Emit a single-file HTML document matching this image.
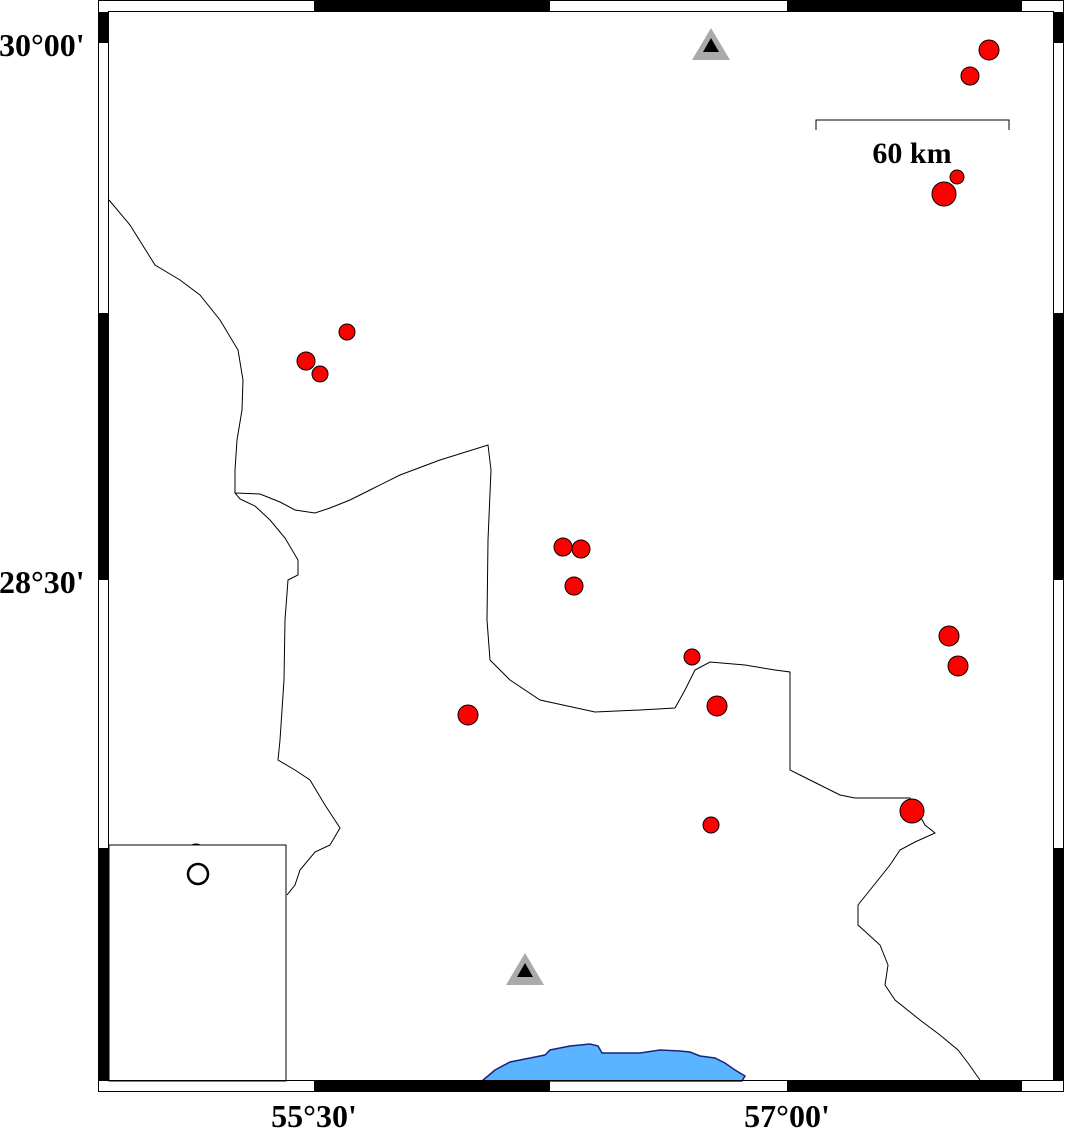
<!DOCTYPE html>
<html><head><style>body{margin:0;background:#fff}svg{display:block}</style></head><body>
<svg width="1066" height="1130" xmlns="http://www.w3.org/2000/svg">
<rect width="1066" height="1130" fill="#fff"/>
<!-- sea -->
<path d="M482,1081 L495,1070 L510,1062 L530,1058 L545,1055 L550,1050 L570,1046 L590,1044 L598,1046 L602,1053 L640,1053 L660,1050 L680,1051 L690,1052 L700,1056 L715,1058 L725,1063 L735,1070 L745,1076 L742,1081 Z" fill="#5ab4ff" stroke="#1a237e" stroke-width="1.5"/>
<!-- borders -->
<g fill="none" stroke="#000" stroke-width="1">
<polyline points="109,200 130,225 155,265 180,280 200,295 220,320 238,350 243,380 242,410 237,440 235,470 235,493 240,499 255,506 270,520 285,538 298,560 298,575 288,580 285,620 284,680 280,740 278,760 295,770 310,780 325,805 340,828 330,845 315,852 300,870 295,885 287,895"/>
<polyline points="235,493 260,494 280,502 295,510 315,513 330,508 350,500 370,490 400,475 440,460 488,445 491,470 488,540 487,620 490,660 510,680 540,700 595,712 640,710 675,708 685,690 695,670 710,662 745,665 775,670 790,672 790,770 800,775 820,785 840,795 855,798 910,798 925,825 935,833 915,842 900,850 890,865 870,890 858,905 858,925 880,945 888,965 885,985 895,1000 920,1020 940,1035 958,1050 968,1063 980,1080"/>
</g>
<!-- events -->
<g fill="#ff0000" stroke="#000" stroke-width="1">
<circle cx="989" cy="50" r="10"/><circle cx="970" cy="76" r="9"/><circle cx="957" cy="177" r="7"/><circle cx="944" cy="194" r="12"/>
<circle cx="347" cy="332" r="8"/><circle cx="306" cy="361" r="9"/><circle cx="320" cy="374" r="8"/>
<circle cx="563" cy="547" r="9"/><circle cx="581" cy="549" r="9"/><circle cx="574" cy="586" r="9"/>
<circle cx="949" cy="636" r="10"/><circle cx="958" cy="666" r="10"/><circle cx="692" cy="657" r="8"/>
<circle cx="717" cy="706" r="10"/><circle cx="468" cy="715" r="10"/><circle cx="912" cy="811" r="12"/>
<circle cx="711" cy="825" r="8"/><circle cx="196" cy="853" r="9"/>
</g>
<!-- stations -->
<polygon points="711,28 730,60 692,60" fill="#aaa"/><polygon points="711,38 719,52 703,52" fill="#000"/>
<polygon points="525,953 544,985 506,985" fill="#aaa"/><polygon points="525,963 533,977 517,977" fill="#000"/>
<!-- inset -->
<rect x="109" y="845" width="177" height="236" fill="#fff" stroke="#000" stroke-width="1"/>
<circle cx="198" cy="874" r="10" fill="none" stroke="#000" stroke-width="2.5"/>
<!-- scale -->
<polyline points="816,130 816,120 1009,120 1009,130" fill="none" stroke="#000" stroke-width="1"/>
<text x="912" y="163" font-family="Liberation Serif" font-weight="bold" font-size="30" text-anchor="middle">60 km</text>
<!-- frame -->
<rect x="98.5" y="0.5" width="965" height="1091" fill="none" stroke="#000" stroke-width="1"/>
<rect x="108.5" y="11.5" width="945" height="1069" fill="none" stroke="#000" stroke-width="1"/>
<g fill="#000">
<rect x="314" y="0" width="236" height="12"/><rect x="787" y="0" width="235" height="12"/>
<rect x="314" y="1081" width="236" height="11"/><rect x="787" y="1081" width="235" height="11"/>
<rect x="98" y="12" width="11" height="31"/><rect x="98" y="313" width="11" height="267"/><rect x="98" y="848" width="11" height="233"/>
<rect x="1054" y="12" width="10" height="31"/><rect x="1054" y="313" width="10" height="267"/><rect x="1054" y="848" width="10" height="233"/>
</g>
<g font-family="Liberation Serif" font-weight="bold" font-size="32" fill="#000">
<text x="-1" y="56">30°00'</text>
<text x="-1" y="593">28°30'</text>
<text x="314" y="1127" text-anchor="middle">55°30'</text>
<text x="787" y="1127" text-anchor="middle">57°00'</text>
</g>
</svg>
</body></html>
